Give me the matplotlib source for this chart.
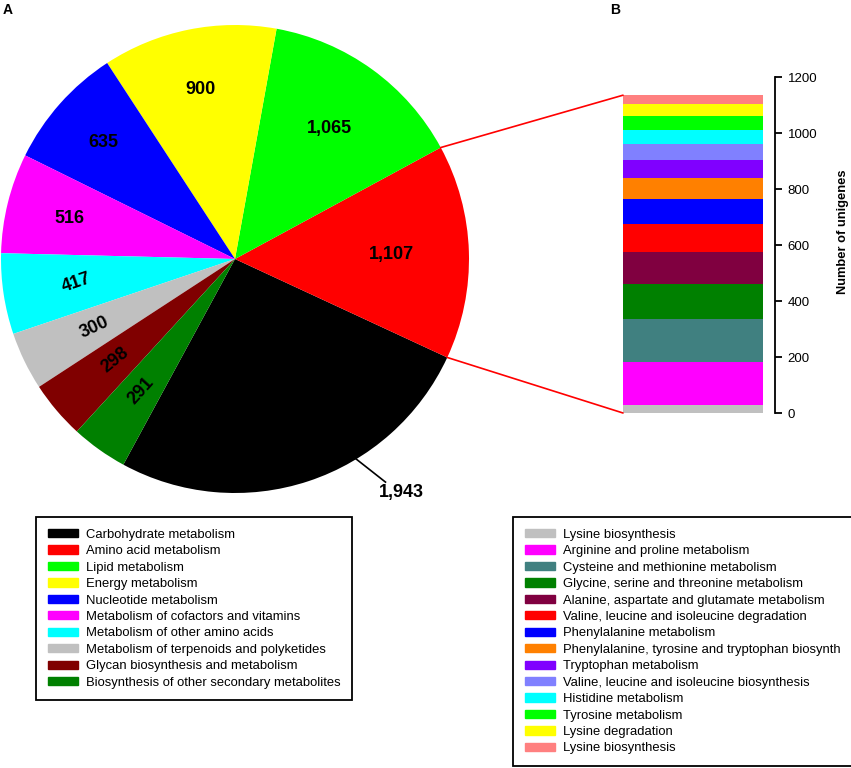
import numpy as np
import matplotlib
matplotlib.use('Agg')
import matplotlib.pyplot as plt
from matplotlib.patches import Patch, ConnectionPatch

plt.rcParams['font.family'] = ['Liberation Sans', 'DejaVu Sans']

# Panel A: KEGG metabolism categories
pieLabels = ['Carbohydrate metabolism', 'Amino acid metabolism', 'Lipid metabolism',
             'Energy metabolism', 'Nucleotide metabolism',
             'Metabolism of cofactors and vitamins', 'Metabolism of other amino acids',
             'Metabolism of terpenoids and polyketides', 'Glycan biosynthesis and metabolism',
             'Biosynthesis of other secondary metabolites']
pieValues = [1943, 1107, 1065, 900, 635, 516, 417, 300, 298, 291]
pieColors = ['#000000', '#FF0000', '#00FF00', '#FFFF00', '#0000FF',
             '#FF00FF', '#00FFFF', '#C0C0C0', '#800000', '#008000']

# Panel B: amino acid metabolism breakdown (bottom to top)
barLabels = ['Lysine biosynthesis', 'Arginine and proline metabolism',
             'Cysteine and methionine metabolism', 'Glycine, serine and threonine metabolism',
             'Alanine, aspartate and glutamate metabolism',
             'Valine, leucine and isoleucine degradation', 'Phenylalanine metabolism',
             'Phenylalanine, tyrosine and tryptophan biosynth', 'Tryptophan metabolism',
             'Valine, leucine and isoleucine biosynthesis', 'Histidine metabolism',
             'Tyrosine metabolism', 'Lysine degradation', 'Lysine biosynthesis']
barValues = [28, 155, 152, 125, 114, 101, 90, 73, 67, 57, 50, 48, 45, 30]
barColors = ['#C0C0C0', '#FF00FF', '#408080', '#008000', '#800040', '#FF0000', '#0000FF',
             '#FF8000', '#8000FF', '#8080FF', '#00FFFF', '#00FF00', '#FFFF00', '#FF8080']
barTicks = [0, 200, 400, 600, 800, 1000, 1200]

# where the in-slice numbers sit (fraction of radius) and how they are turned
labelRadius = [None, 0.67, 0.69, 0.74, 0.75, 0.73, 0.685, 0.67, 0.67, 0.69]
labelRotation = [0, 0, 0, 0, 0, 0, 19, 25, 39, 48]

W, H = 851, 768
fig = plt.figure(figsize=(W / 100, H / 100), dpi=100)

def px_axes(x0, y0, x1, y1):
    # axes from pixel box (top-left origin)
    return fig.add_axes([x0 / W, 1 - y1 / H, (x1 - x0) / W, (y1 - y0) / H])

#pie
axPie = px_axes(1, 25, 469, 493)
wedges, _ = axPie.pie(pieValues, colors=pieColors, startangle=-118.5, counterclock=True,
                      radius=1, wedgeprops=dict(linewidth=0))
axPie.set_xlim(-1, 1)
axPie.set_ylim(-1, 1)

for i, w in enumerate(wedges):
    mid = (w.theta1 + w.theta2) / 2
    txt = '{:,}'.format(pieValues[i])
    if i == 0:
        a0, a1 = np.deg2rad(-59), np.deg2rad(-56)
        axPie.plot([0.99 * np.cos(a0), 1.15 * np.cos(a1)], [0.99 * np.sin(a0), 1.15 * np.sin(a1)],
                   color='black', lw=1.2, clip_on=False)
        b = np.deg2rad(-54.5)
        axPie.text(1.225 * np.cos(b), 1.225 * np.sin(b), txt, ha='center', va='center',
                   fontsize=13, fontweight='bold')
        continue
    r = labelRadius[i]
    m = np.deg2rad(mid)
    axPie.text(r * np.cos(m), r * np.sin(m), txt, ha='center', va='center',
               fontsize=13, fontweight='bold', rotation=labelRotation[i])

#stacked bar
axBar = px_axes(623, 77, 775, 413)
bottom = 0
for v, c in zip(barValues, barColors):
    axBar.bar(0, v, width=140 / 152, bottom=bottom, color=c, align='edge', linewidth=0)
    bottom += v
total = bottom
axBar.set_xlim(0, 1)
axBar.set_ylim(0, 1200)
for s in ['left', 'top', 'bottom']:
    axBar.spines[s].set_visible(False)
axBar.spines['right'].set_linewidth(1.3)
axBar.spines['right'].set_bounds(0, 1200)
axBar.yaxis.tick_right()
axBar.yaxis.set_label_position('right')
axBar.set_yticks(barTicks)
axBar.tick_params(axis='y', direction='out', length=5, width=1.3, labelsize=9.5, pad=4)
axBar.set_xticks([])
axBar.set_ylabel('Number of unigenes', fontsize=9.3, fontweight='bold')
axBar.yaxis.set_label_coords(1.41, 0.539)
axBar.patch.set_visible(False)

#connector lines from the amino acid slice to the bar
red = wedges[1]
for ang, yv in [(red.theta2, total), (red.theta1, 0)]:
    a = np.deg2rad(ang)
    con = ConnectionPatch(xyA=(np.cos(a), np.sin(a)), coordsA=axPie.transData,
                          xyB=(0, yv), coordsB=axBar.transData, color='#FF0000', lw=1.2)
    fig.add_artist(con)

fig.text(3 / W, 1 - 10 / H, 'A', fontsize=10, fontweight='bold', ha='left', va='center')
fig.text(610 / W, 1 - 10 / H, 'B', fontsize=10, fontweight='bold', ha='left', va='center')

legKw = dict(loc='upper left', fontsize=9.4, handlelength=2.3, handleheight=0.6,
             handletextpad=0.6, labelspacing=0.34, borderpad=0.9, borderaxespad=0,
             fancybox=False, framealpha=1, edgecolor='black')
leg1 = fig.legend([Patch(facecolor=c, edgecolor=c) for c in pieColors], pieLabels,
                  bbox_to_anchor=(36 / W, 1 - 517 / H), **legKw)
leg1.get_frame().set_linewidth(1.3)
leg2 = fig.legend([Patch(facecolor=c, edgecolor=c) for c in barColors], barLabels,
                  bbox_to_anchor=(513 / W, 1 - 517 / H), **legKw)
leg2.get_frame().set_linewidth(1.3)

fig.savefig('out.png', dpi=100)
